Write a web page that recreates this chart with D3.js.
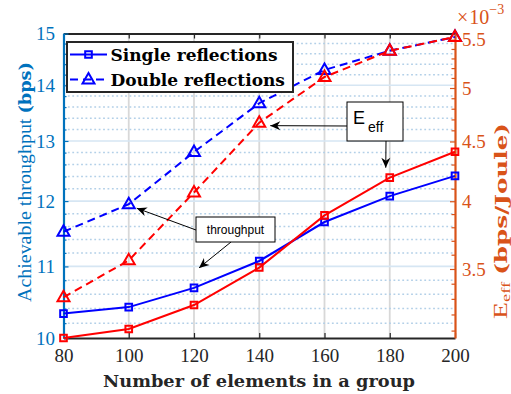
<!DOCTYPE html>
<html>
<head>
<meta charset="utf-8">
<script src="https://cdn.jsdelivr.net/npm/d3@7"></script>
<style>
  body { margin: 0; background: #fff; }
  svg { display: block; }
</style>
</head>
<body>
<svg id="chart" width="511" height="394"></svg>
<script>
// Number of reflecting elements in a group
const elements = [80, 100, 120, 140, 160, 180, 200];

// Achievable throughput (bps) — left axis
const thrSingle = [10.33, 10.42, 10.69, 11.08, 11.67, 12.08, 12.41];
const thrDouble = [11.52, 11.95, 12.81, 13.67, 14.29, 14.66, 14.93];

// Energy efficiency (×10^-3 bps/Joule) — right axis
const effSingle = [3.055, 3.11, 3.26, 3.51, 3.89, 4.19, 4.41];
const effDouble = [3.31, 3.56, 4.07, 4.67, 5.11, 5.38, 5.53];

// Tick labels
const xTicks = [80, 100, 120, 140, 160, 180, 200];
const leftTicks = [10, 11, 12, 13, 14, 15];
const rightTicks = [3.5, 4, 4.5, 5, 5.5];

const legendLabels = ["Single reflections", "Double reflections"];

const COL_LEFT = "#0072BD";
const COL_RIGHT = "#D95319";
const COL_AX = "#262626";
const BLUE = "#0000FF";
const RED = "#FF0000";

const SERIF = "'Liberation Serif', 'Times New Roman', serif";
const SERIF_B = "'DejaVu Serif', serif";
const SANS = "'Liberation Sans', Arial, sans-serif";

const svg = d3.select("#chart");
const P = { left: 63.5, right: 455, top: 33.5, bottom: 338 };

const x = d3.scaleLinear().domain([80, 200]).range([P.left, P.right]);
const yL = d3.scaleLog().domain([10, 15]).range([P.bottom, P.top]);
const yR = d3.scaleLog().domain([3.055, 5.567]).range([P.bottom, P.top]);

const leftMinor = d3.range(10.2, 14.9, 0.2).map(v => +v.toFixed(1)).filter(v => !leftTicks.includes(v));
const rightMinor = d3.range(3.1, 5.56, 0.1).map(v => +v.toFixed(1)).filter(v => !rightTicks.includes(v));

svg.append("rect").attr("width", 511).attr("height", 394).attr("fill", "#fff");

// ---- grid ----
const grid = svg.append("g");
grid.selectAll(".vg").data(xTicks.slice(1, -1)).join("line")
  .attr("x1", d => x(d)).attr("x2", d => x(d))
  .attr("y1", P.top).attr("y2", P.bottom)
  .attr("stroke", "#d8d8d8").attr("stroke-width", 1.8);
grid.selectAll(".hm").data(leftMinor).join("line")
  .attr("x1", P.left).attr("x2", P.right)
  .attr("y1", d => yL(d)).attr("y2", d => yL(d))
  .attr("stroke", "#b3d0e8").attr("stroke-width", 1.5)
  .attr("stroke-dasharray", "1.8,2.6");
grid.selectAll(".hg").data(leftTicks.slice(1, -1)).join("line")
  .attr("x1", P.left).attr("x2", P.right)
  .attr("y1", d => yL(d)).attr("y2", d => yL(d))
  .attr("stroke", "#d6e6f3").attr("stroke-width", 1.6);

// ---- axes ----
function styleAxis(g, color, width) {
  g.select(".domain").attr("stroke", color).attr("stroke-width", width);
  g.selectAll(".tick line").attr("stroke", color).attr("stroke-width", 1.2);
  g.selectAll(".tick text").attr("fill", color);
}

// top border
const gTop = svg.append("g").attr("transform", `translate(0,${P.top})`)
  .call(d3.axisTop(x).tickValues(xTicks).tickSizeInner(-5).tickSizeOuter(0).tickFormat(""));
styleAxis(gTop, COL_AX, 2);

// bottom axis
const gBot = svg.append("g").attr("transform", `translate(0,${P.bottom})`)
  .call(d3.axisBottom(x).tickValues(xTicks).tickSizeInner(-5).tickSizeOuter(0).tickPadding(11));
styleAxis(gBot, COL_AX, 2);
gBot.selectAll(".tick text").attr("font-family", SERIF).attr("font-size", 19);

// left axis
const gLm = svg.append("g").attr("transform", `translate(${P.left},0)`)
  .call(d3.axisLeft(yL).tickValues(leftMinor).tickSizeInner(-3).tickSizeOuter(0).tickFormat(""));
styleAxis(gLm, COL_LEFT, 0);
gLm.select(".domain").remove();
const gL = svg.append("g").attr("transform", `translate(${P.left},0)`)
  .call(d3.axisLeft(yL).tickValues(leftTicks).tickSizeInner(-5).tickSizeOuter(0)
    .tickPadding(8.5).tickFormat(d3.format("d")));
styleAxis(gL, COL_LEFT, 2.2);
gL.selectAll(".tick text").attr("font-family", SERIF).attr("font-size", 19);

// right axis
const gRm = svg.append("g").attr("transform", `translate(${P.right},0)`)
  .call(d3.axisRight(yR).tickValues(rightMinor).tickSizeInner(-3.5).tickSizeOuter(0).tickFormat(""));
styleAxis(gRm, COL_RIGHT, 0);
gRm.select(".domain").remove();
const gR = svg.append("g").attr("transform", `translate(${P.right},0)`)
  .call(d3.axisRight(yR).tickValues(rightTicks).tickSizeInner(-5).tickSizeOuter(0)
    .tickPadding(7).tickFormat(d => d3.format("")(d)));
styleAxis(gR, COL_RIGHT, 2.2);
gR.selectAll(".tick text").attr("font-family", SERIF).attr("font-size", 19);

// exponent marker on the right axis
const expo = svg.append("text").attr("x", 457).attr("y", 24)
  .attr("fill", COL_RIGHT).attr("font-family", SERIF).attr("font-size", 20);
expo.append("tspan").text("×");
expo.append("tspan").attr("dx", 1).text("10");
expo.append("tspan").attr("dy", -10).attr("font-size", 14).text("−3");

// axis titles
svg.append("text")
  .attr("text-anchor", "middle")
  .attr("transform", `translate(${259},${387})`)
  .attr("font-family", SERIF_B).attr("font-weight", "bold").attr("font-size", 17)
  .attr("fill", COL_AX)
  .attr("textLength", 312).attr("lengthAdjust", "spacingAndGlyphs")
  .text("Number of elements in a group");

const yt = svg.append("text")
  .attr("text-anchor", "middle")
  .attr("transform", `translate(31,${182}) rotate(-90)`)
  .attr("fill", COL_LEFT).attr("font-size", 18)
  .attr("textLength", 240).attr("lengthAdjust", "spacingAndGlyphs");
yt.append("tspan").attr("font-family", SERIF).text("Achievable throughput ");
yt.append("tspan").attr("font-family", SERIF_B).attr("font-weight", "bold").attr("font-size", 16).text("(bps)");

const rt = svg.append("text")
  .attr("text-anchor", "middle")
  .attr("transform", `translate(506.5,${221}) rotate(-90)`)
  .attr("fill", COL_RIGHT).attr("font-size", 18)
  .attr("textLength", 196).attr("lengthAdjust", "spacingAndGlyphs");
rt.append("tspan").attr("font-family", SERIF).text("E");
rt.append("tspan").attr("font-family", SERIF).attr("font-size", 12).attr("dy", 3).text("eff");
rt.append("tspan").attr("font-family", SERIF).attr("dy", -3).text(" ");
rt.append("tspan").attr("font-family", SERIF_B).attr("font-weight", "bold").attr("font-size", 16).text("(bps/Joule)");

// ---- series ----
const series = [
  { vals: thrSingle, y: yL, color: BLUE, dash: null, marker: "square" },
  { vals: thrDouble, y: yL, color: BLUE, dash: "8,5", marker: "triangle" },
  { vals: effSingle, y: yR, color: RED, dash: null, marker: "square" },
  { vals: effDouble, y: yR, color: RED, dash: "8,5", marker: "triangle" }
];

const sqSym = d3.symbol().type(d3.symbolSquare).size(44);
const triPath = "M0,-6.5L6,4L-6,4Z";

function drawMarker(g, cx, cy, kind, color) {
  g.append("path")
    .attr("d", kind === "square" ? sqSym() : triPath)
    .attr("transform", `translate(${cx},${cy})`)
    .attr("fill", "none").attr("stroke", color).attr("stroke-width", 2);
}

const gData = svg.append("g");
series.forEach(s => {
  const line = d3.line().x((d, i) => x(elements[i])).y(d => s.y(d));
  gData.append("path").datum(s.vals)
    .attr("d", line).attr("fill", "none")
    .attr("stroke", s.color).attr("stroke-width", 2)
    .attr("stroke-dasharray", s.dash);
  s.vals.forEach((v, i) => drawMarker(gData, x(elements[i]), s.y(v), s.marker, s.color));
});

// ---- legend ----
const lg = svg.append("g");
lg.append("rect").attr("x", 67).attr("y", 42).attr("width", 226).attr("height", 50)
  .attr("fill", "#fff").attr("stroke", COL_AX).attr("stroke-width", 2);
[["square", null], ["triangle", "8,5"]].forEach(([m, dash], i) => {
  const yy = 54.5 + i * 25;
  lg.append("line").attr("x1", 70).attr("x2", 107).attr("y1", yy).attr("y2", yy)
    .attr("stroke", BLUE).attr("stroke-width", 2).attr("stroke-dasharray", dash);
  drawMarker(lg, 88.5, yy, m, BLUE);
  lg.append("text").attr("x", 110.5).attr("y", yy + 6)
    .attr("font-family", SERIF_B).attr("font-weight", "bold").attr("font-size", 17)
    .attr("fill", "#000").text(legendLabels[i]);
});

// ---- annotations ----
const ann = svg.append("g");
function arrow(x1, y1, x2, y2) {
  ann.append("line").attr("x1", x1).attr("y1", y1).attr("x2", x2).attr("y2", y2)
    .attr("stroke", "#000").attr("stroke-width", 1);
  const a = Math.atan2(y2 - y1, x2 - x1) * 180 / Math.PI;
  ann.append("path").attr("d", "M0,0L-10,-4.5L-7,0L-10,4.5Z")
    .attr("transform", `translate(${x2},${y2}) rotate(${a})`)
    .attr("fill", "#000");
}
function box(x0, y0, w, h) {
  ann.append("rect").attr("x", x0).attr("y", y0).attr("width", w).attr("height", h)
    .attr("fill", "#fff").attr("stroke", "#000").attr("stroke-width", 1);
}

// throughput call-out
const tb = { x: 196, y: 217, w: 79, h: 25 };
arrow(tb.x, tb.y + 13, x(100) + 8, yL(thrDouble[1]) + 4);
arrow(tb.x + 35, tb.y + tb.h, x(120) + 5, yL(thrSingle[2]) - 20);
box(tb.x, tb.y, tb.w, tb.h);
ann.append("text").attr("x", tb.x + tb.w / 2).attr("y", tb.y + 17)
  .attr("text-anchor", "middle").attr("font-family", SANS).attr("font-size", 12)
  .attr("fill", "#000").text("throughput");

// energy-efficiency call-out
const eb = { x: 347, y: 102, w: 56, h: 39 };
arrow(eb.x, eb.y + 24, x(140) + 11, yR(effDouble[3]) + 3);
arrow(eb.x + 39, eb.y + eb.h, x(180) - 4, yR(effSingle[5]) - 10);
box(eb.x, eb.y, eb.w, eb.h);
const et = ann.append("text").attr("x", eb.x + 6).attr("y", eb.y + 22)
  .attr("font-family", SANS).attr("font-size", 18).attr("fill", "#000");
et.append("tspan").text("E");
et.append("tspan").attr("dx", 3).attr("dy", 8).attr("font-size", 14).text("eff");
</script>
</body>
</html>
